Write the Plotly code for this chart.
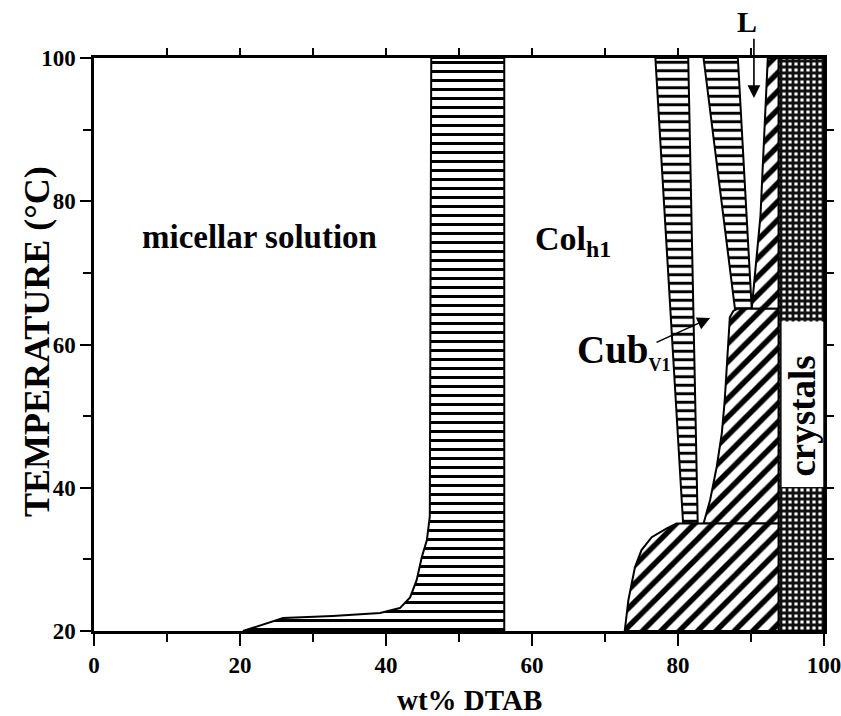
import plotly.graph_objects as go

# ---------------- data (wt% DTAB, temperature in °C) ----------------
# two-phase region micellar solution + Col_h1 (horizontal hatch)
mic_col_x = [20.4, 23.7, 25.9, 32.7, 39.2, 41.9, 43.3, 44.2, 44.9, 45.6, 46.0, 46.2, 56.2, 56.2]
mic_col_t = [20.0, 21.1, 21.8, 22.1, 22.5, 23.2, 24.7, 27.1, 30.3, 32.7, 36.0, 100.0, 100.0, 20.0]

# two-phase region Col_h1 + Cub_V1 (horizontal hatch)
col_cub_x = [76.9, 81.4, 82.7, 80.7]
col_cub_t = [100.0, 100.0, 35.0, 35.0]

# two-phase region Cub_V1 + L (horizontal hatch)
cub_l_x = [83.5, 88.2, 90.1, 87.8]
cub_l_t = [100.0, 100.0, 65.0, 65.0]

# L + crystals narrow strip (diagonal hatch)
strip_x = [92.3, 93.8, 93.8, 90.1, 91.3]
strip_t = [100.0, 100.0, 65.0, 65.0, 78.0]

# Cub_V1 + crystals (diagonal hatch, 35-65 °C)
cub_cr_x = [83.5, 84.4, 85.3, 86.0, 86.4, 86.7, 86.9, 87.1, 87.6, 88.2, 93.8, 93.8]
cub_cr_t = [35.0, 38.3, 42.9, 47.6, 52.2, 56.9, 61.5, 63.8, 64.7, 65.0, 65.0, 35.0]

# Col_h1 + crystals (diagonal hatch, 20-35 °C)
col_cr_x = [72.7, 73.2, 74.1, 75.0, 76.4, 78.4, 79.8, 93.8, 93.8]
col_cr_t = [20.0, 24.3, 28.9, 31.3, 33.1, 34.3, 35.0, 35.0, 20.0]

# crystals
cryst_x = [93.8, 100.0, 100.0, 93.8]
cryst_t = [20.0, 20.0, 100.0, 100.0]
cryst_box_x = [94.2, 99.9]
cryst_box_t = [40.1, 63.2]

x_ticks = [0, 20, 40, 60, 80, 100]
y_ticks = [20, 40, 60, 80, 100]

SERIF = "Liberation Serif"

fig = go.Figure()

def region(xs, ts, shape, size, solidity, fg="black", bg="white"):
    fig.add_trace(go.Scatter(
        x=xs + [xs[0]], y=ts + [ts[0]], mode="lines", fill="toself",
        line=dict(color="black", width=2),
        fillcolor="white",
        fillpattern=dict(shape=shape, size=size, solidity=solidity,
                         fgcolor=fg, bgcolor=bg, fillmode="replace"),
        hoverinfo="skip", showlegend=False))

region(mic_col_x, mic_col_t, "-", 9, 0.33)
region(col_cub_x, col_cub_t, "-", 8.5, 0.35)
region(cub_l_x, cub_l_t, "-", 8.5, 0.35)
region(strip_x, strip_t, "/", 13, 0.42)
region(cub_cr_x, cub_cr_t, "/", 13, 0.42)
region(col_cr_x, col_cr_t, "/", 13, 0.42)
region(cryst_x, cryst_t, "+", 6, 0.72, fg="#111111", bg="white")

# dummy trace for mirrored tick axes
fig.add_trace(go.Scatter(x=[0], y=[20], xaxis="x2", yaxis="y2", mode="markers",
                         marker=dict(opacity=0), hoverinfo="skip", showlegend=False))

fig.add_shape(type="rect", x0=cryst_box_x[0], x1=cryst_box_x[1],
              y0=cryst_box_t[0], y1=cryst_box_t[1],
              fillcolor="white", line=dict(width=0), layer="above")

tickfont = dict(family=SERIF, size=23, color="black", weight="bold")

fig.update_layout(
    width=841, height=716,
    margin=dict(l=94, r=17, t=58, b=85, autoexpand=False),
    paper_bgcolor="white", plot_bgcolor="white",
    showlegend=False,
    xaxis=dict(range=[0, 100], tickvals=x_ticks, ticktext=[str(v) for v in x_ticks],
               ticks="outside", ticklen=12, tickwidth=2, tickcolor="black",
               minor=dict(tickvals=[10, 30, 50, 70, 90], ticks="outside", ticklen=8,
                          tickwidth=2, tickcolor="black"),
               showline=True, linewidth=2.5, linecolor="black", mirror=True,
               showgrid=False, zeroline=False, tickfont=tickfont, automargin=False,
               ticklabeloverflow="allow"),
    yaxis=dict(range=[20, 100], tickvals=y_ticks, ticktext=[str(v) for v in y_ticks],
               ticks="outside", ticklen=11, tickwidth=2, tickcolor="black",
               minor=dict(tickvals=[30, 50, 70, 90], ticks="outside", ticklen=8,
                          tickwidth=2, tickcolor="black"),
               showline=True, linewidth=2.5, linecolor="black", mirror=True,
               showgrid=False, zeroline=False, tickfont=tickfont, automargin=False,
               ticklabeloverflow="allow"),
    xaxis2=dict(range=[0, 100], overlaying="x", side="top", anchor="y",
                tickvals=[10, 20, 30, 40, 50, 60, 70, 80, 90], showticklabels=False,
                ticks="outside", ticklen=9, tickwidth=2, tickcolor="black",
                showgrid=False, zeroline=False, showline=False, automargin=False),
    yaxis2=dict(range=[20, 100], overlaying="y", side="right", anchor="x",
                tickvals=[30, 40, 50, 60, 70, 80, 90], showticklabels=False,
                ticks="outside", ticklen=9, tickwidth=2, tickcolor="black",
                showgrid=False, zeroline=False, showline=False, automargin=False),
)

lab = dict(family=SERIF, color="black", weight="bold")

ann = [
    dict(x=22.7, y=75.0, text="micellar solution", font=dict(size=33, **lab)),
    dict(x=65.6, y=74.5, text="Col<sub>h1</sub>", font=dict(size=34, **lab)),
    dict(x=72.6, y=59.0, text="Cub<sub><span style='font-size:18px'>V1</span></sub>",
         font=dict(size=39, **lab)),
    dict(x=97.05, y=50.0, text="crystals", textangle=-90, font=dict(size=37, **lab)),
]
for a in ann:
    a.update(xref="x", yref="y", showarrow=False, xanchor="center", yanchor="middle")
    fig.add_annotation(**a)

fig.add_annotation(x=89.45, y=(631 - 22) / 573, xref="x", yref="paper", text="L",
                   showarrow=False, xanchor="center", yanchor="middle",
                   font=dict(size=30, **lab))

# arrows
fig.add_annotation(x=84.4, y=63.7, ax=76.85, ay=60.2, xref="x", yref="y",
                   axref="x", ayref="y", text="", showarrow=True,
                   arrowhead=2, arrowsize=1.6, arrowwidth=1.6, arrowcolor="black")
fig.add_annotation(x=90.4, y=94.4, ax=90.4, ay=102.9, xref="x", yref="y",
                   axref="x", ayref="y", text="", showarrow=True,
                   arrowhead=2, arrowsize=1.6, arrowwidth=1.6, arrowcolor="black")

# axis titles
fig.add_annotation(x=(469 - 94) / 730, y=-(700 - 631) / 573, xref="paper", yref="paper",
                   text="wt% DTAB", showarrow=False, xanchor="center", yanchor="middle",
                   font=dict(size=29, **lab))
fig.add_annotation(x=-(94 - 37) / 730, y=(631 - 342) / 573, xref="paper", yref="paper",
                   text="TEMPERATURE (°C)", textangle=-90, showarrow=False,
                   xanchor="center", yanchor="middle", font=dict(size=36, **lab))

fig.write_html("out.html")
